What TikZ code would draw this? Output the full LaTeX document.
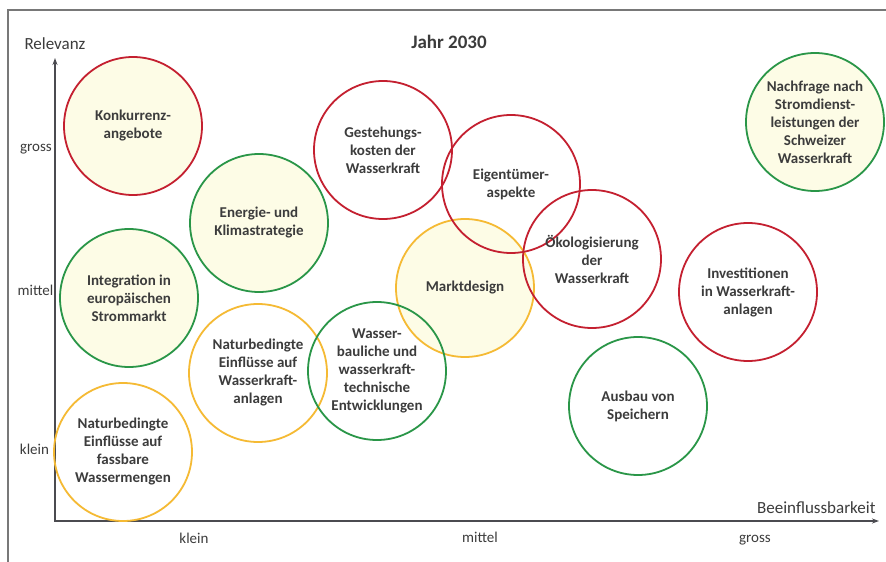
\documentclass[tikz,border=0pt]{standalone}
\usepackage{fontspec}
\setmainfont{Carlito}
\usetikzlibrary{arrows.meta}
\definecolor{cred}{RGB}{196,32,48}
\definecolor{cgreen}{RGB}{42,150,72}
\definecolor{corange}{RGB}{245,186,52}
\definecolor{cfill}{RGB}{253,252,230}
\definecolor{ctext}{RGB}{60,60,60}
\definecolor{caxis}{RGB}{75,75,80}
\definecolor{cframe}{RGB}{120,120,120}
\tikzset{
  bubble/.style={circle, draw, line width=1.8pt, minimum size=138pt, inner sep=0pt,
    align=center, font=\fontsize{15}{18}\selectfont\bfseries, text=ctext},
  redb/.style={bubble, draw=cred},
  greenb/.style={bubble, draw=cgreen},
  orangeb/.style={bubble, draw=corange},
  filled/.style={fill=cfill},
  ticklbl/.style={anchor=base, font=\fontsize{15}{17}\selectfont, text=ctext},
  axtitle/.style={anchor=base, font=\fontsize{17}{19}\selectfont, text=ctext},
  axisline/.style={draw=caxis, line width=1.3pt},
  frameline/.style={draw=cframe, line width=1.1pt}
}
\begin{document}
\begin{tikzpicture}[x=1pt,y=-1pt]
\useasboundingbox (0,0) rectangle (886,562);
\fill[white] (0,0) rectangle (886,562);
% frame
\coordinate (fbl) at (8,562);
\coordinate (ftl) at (8,10);
\coordinate (ftr) at (886,10);
\draw[frameline] (fbl) -- (ftl) -- (ftr);
% axes
\coordinate (O) at (55,521);
\coordinate (ytip) at (55,58);
\coordinate (xtip) at (879,521);
\draw[axisline, {Stealth[length=7pt,width=5pt]}-{Stealth[length=7pt,width=5pt]}] (ytip) -- (O) -- (xtip);
% labels
\node[anchor=base, font=\fontsize{19}{22}\selectfont\bfseries, text=ctext] (title) at (449,48) {Jahr 2030};
\node[axtitle] (relevanz) at (55,49) {Relevanz};
\node[axtitle, anchor=base east] (beein) at (879,513) {Beeinflussbarkeit};
\node[ticklbl] (ygross) at (36,151) {gross};
\node[ticklbl] (ymittel) at (35.5,295) {mittel};
\node[ticklbl] (yklein) at (34.5,454) {klein};
\node[ticklbl] (xklein) at (194,543) {klein};
\node[ticklbl] (xmittel) at (480,542) {mittel};
\node[ticklbl] (xgross) at (755,542) {gross};
% filled bubbles
\node[redb, filled] (konk) at (133,126) {Konkurrenz-\\angebote};
\node[greenb, filled] (energie) at (259,223) {Energie- und\\Klimastrategie};
\node[greenb, filled] (integ) at (129,298) {Integration in\\europäischen\\Strommarkt};
\node[orangeb, filled] (markt) at (465,288) {Marktdesign};
\node[greenb, filled] (nachfrage) at (815,122) {Nachfrage nach\\Stromdienst-\\leistungen der\\Schweizer\\Wasserkraft};
% open bubbles
\node[orangeb] (natwk) at (258,373) {Naturbedingte\\Einflüsse auf\\Wasserkraft-\\anlagen};
\node[greenb] (wasserbau) at (377,371) {Wasser-\\bauliche und\\wasserkraft-\\technische\\Entwicklungen};
\node[orangeb] (natfass) at (123,452) {Naturbedingte\\Einflüsse auf\\fassbare\\Wassermengen};
\node[redb] (gestehung) at (383,150) {Gestehungs-\\kosten der\\Wasserkraft};
\node[redb] (eigen) at (511,184) {Eigentümer-\\aspekte};
\node[redb] (oeko) at (592,259) {Ökologisierung\\der\\Wasserkraft};
\node[redb] (invest) at (748,292) {Investitionen\\in Wasserkraft-\\anlagen};
\node[greenb] (speicher) at (638,406) {Ausbau von\\Speichern};
\end{tikzpicture}
\end{document}
